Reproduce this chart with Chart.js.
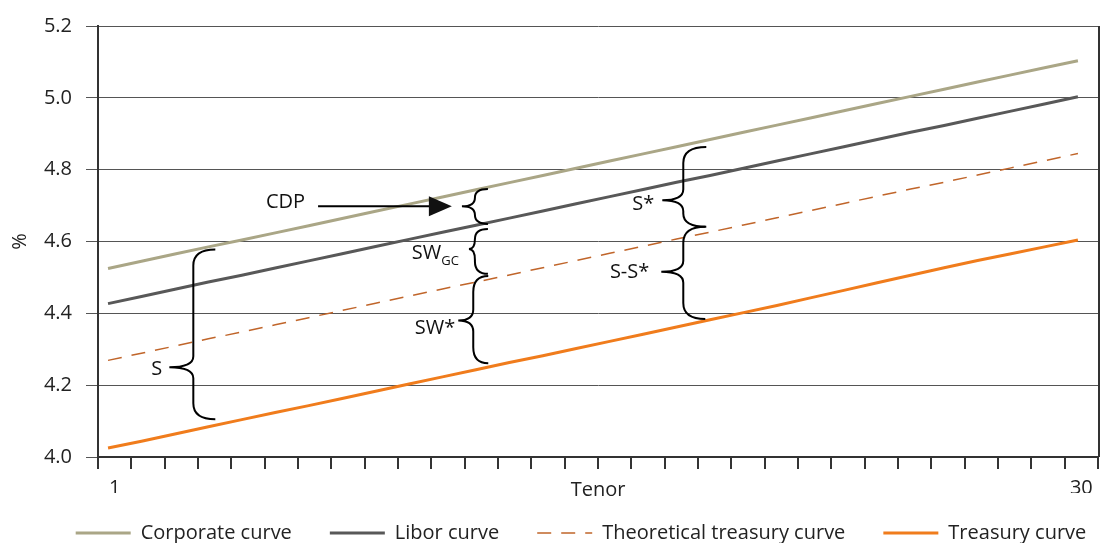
<!DOCTYPE html>
<html>
<head>
<meta charset="utf-8">
<script src="https://cdn.jsdelivr.net/npm/chart.js@4.4.1/dist/chart.umd.min.js"></script>
<style>
  html, body { margin: 0; padding: 0; background: #fff; }
</style>
</head>
<body>
<canvas id="chart" width="1103" height="543"></canvas>
<script>
// tenor axis
const tenors = [1, 2, 3, 4, 5, 6, 7, 8, 9, 10, 11, 12, 13, 14, 15, 16, 17, 18, 19, 20, 21, 22, 23, 24, 25, 26, 27, 28, 29, 30];
const tenorLabels = tenors.map(String);

// curves (%)
const corporateCurve = [4.525, 4.545, 4.565, 4.585, 4.604, 4.624, 4.644, 4.664, 4.684, 4.704, 4.724, 4.744, 4.764, 4.784, 4.804,
  4.824, 4.844, 4.864, 4.884, 4.904, 4.924, 4.944, 4.964, 4.984, 5.004, 5.024, 5.044, 5.064, 5.084, 5.103];
const liborCurve = [4.427, 4.447, 4.467, 4.487, 4.506, 4.526, 4.546, 4.566, 4.586, 4.606, 4.626, 4.645, 4.665, 4.685, 4.705,
  4.725, 4.745, 4.765, 4.784, 4.804, 4.824, 4.844, 4.864, 4.884, 4.904, 4.923, 4.943, 4.963, 4.983, 5.003];
const theoreticalCurve = [4.269, 4.289, 4.309, 4.329, 4.348, 4.368, 4.388, 4.408, 4.428, 4.448, 4.468, 4.487, 4.507, 4.527, 4.547,
  4.567, 4.587, 4.607, 4.626, 4.646, 4.666, 4.686, 4.706, 4.726, 4.746, 4.765, 4.785, 4.805, 4.825, 4.845];
const treasuryCurve = [4.025, 4.044, 4.064, 4.084, 4.104, 4.124, 4.143, 4.163, 4.183, 4.203, 4.223, 4.243, 4.263, 4.282, 4.302,
  4.322, 4.342, 4.362, 4.382, 4.402, 4.422, 4.443, 4.464, 4.485, 4.506, 4.527, 4.547, 4.566, 4.585, 4.604];

const yTicks = [4.0, 4.2, 4.4, 4.6, 4.8, 5.0, 5.2];

// spread braces (tenor, top / cusp / bottom in %)
const braceLabels = ['S', '', 'SW', 'SW*', 'S*', 'S-S*'];
const braceSubs   = ['', '', 'GC', '', '', ''];
const braceTenor  = [3.55, 11.97, 11.97, 11.92, 18.2, 18.2];
const braceTop    = [4.578, 4.746, 4.635, 4.504, 4.863, 4.641];
const braceMid    = [4.250, 4.698, 4.579, 4.380, 4.715, 4.516];
const braceBottom = [4.105, 4.649, 4.510, 4.261, 4.641, 4.384];

// CDP arrow
const cdpArrow = { label: 'CDP', from: 7.28, to: 11.28, value: 4.698 };

const pts = vals => tenors.map((t, i) => ({ x: t, y: vals[i] }));

Chart.defaults.font.family = "'Open Sans', sans-serif";
Chart.defaults.font.size = 20;
Chart.defaults.color = '#222';

// hook / cusp / label offsets in px
const braceStyle = [
  { hook: 22, cusp: 24, dx: 7, dy: 2 },
  { hook: 13, cusp: 13, dx: 0, dy: 0 },
  { hook: 13, cusp: 6, dx: 10, dy: 4 },
  { hook: 15, cusp: 15, dx: 3, dy: 8 },
  { hook: 23, cusp: 21, dx: 8, dy: 4 },
  { hook: 22, cusp: 22, dx: 12, dy: 1 }
];

function drawBrace(ctx, x, yTop, yMid, yBot, hook, cusp) {
  const rEndTop = Math.min(16, (yMid - yTop) / 2);
  const rEndBot = Math.min(16, (yBot - yMid) / 2);
  const rMidTop = Math.min(11, (yMid - yTop) / 2);
  const rMidBot = Math.min(11, (yBot - yMid) / 2);
  ctx.beginPath();
  ctx.moveTo(x + hook, yTop);
  ctx.quadraticCurveTo(x, yTop, x, yTop + rEndTop);
  ctx.lineTo(x, yMid - rMidTop);
  ctx.quadraticCurveTo(x, yMid, x - cusp, yMid);
  ctx.quadraticCurveTo(x, yMid, x, yMid + rMidBot);
  ctx.lineTo(x, yBot - rEndBot);
  ctx.quadraticCurveTo(x, yBot, x + hook, yBot);
  ctx.stroke();
}

const annotations = {
  id: 'annotations',
  afterLayout(chart) {
    // legend row sits right of centre and a bit higher in the original
    const lg = chart.legend;
    lg.left += 32;
    lg.right += 32;
    lg.top -= 8;
    lg.bottom -= 8;
  },
  afterDatasetsDraw(chart) {
    const { ctx, chartArea, scales } = chart;
    const xs = scales.xl, ys = scales.y;
    ctx.save();

    // right frame line
    ctx.strokeStyle = '#333';
    ctx.lineWidth = 2;
    ctx.beginPath();
    ctx.moveTo(chartArea.right + 1, chartArea.top);
    ctx.lineTo(chartArea.right + 1, chartArea.bottom);
    ctx.stroke();

    ctx.strokeStyle = '#000';
    ctx.fillStyle = '#111';
    ctx.lineWidth = 2;
    ctx.textAlign = 'right';
    ctx.textBaseline = 'middle';

    braceLabels.forEach((label, i) => {
      const st = braceStyle[i];
      const x = xs.getPixelForValue(braceTenor[i]);
      const yMid = ys.getPixelForValue(braceMid[i]);
      drawBrace(ctx, x, ys.getPixelForValue(braceTop[i]), yMid, ys.getPixelForValue(braceBottom[i]), st.hook, st.cusp);
      if (!label) return;
      let right = x - st.cusp - st.dx;
      if (braceSubs[i]) {
        ctx.font = "13px 'Open Sans', sans-serif";
        ctx.fillText(braceSubs[i], right, yMid + st.dy + 8);
        right -= ctx.measureText(braceSubs[i]).width;
      }
      ctx.font = "20px 'Open Sans', sans-serif";
      ctx.fillText(label, right, yMid + st.dy);
    });

    // CDP arrow
    const ay = ys.getPixelForValue(cdpArrow.value);
    const ax0 = xs.getPixelForValue(cdpArrow.from);
    const ax1 = xs.getPixelForValue(cdpArrow.to);
    ctx.beginPath();
    ctx.moveTo(ax0, ay);
    ctx.lineTo(ax1 - 20, ay);
    ctx.stroke();
    ctx.beginPath();
    ctx.moveTo(ax1, ay);
    ctx.lineTo(ax1 - 23, ay - 10);
    ctx.lineTo(ax1 - 23, ay + 10);
    ctx.closePath();
    ctx.fill();
    ctx.font = "20px 'Open Sans', sans-serif";
    ctx.fillText(cdpArrow.label, ax0 - 13, ay - 4);

    ctx.restore();
  }
};

new Chart(document.getElementById('chart'), {
  type: 'line',
  data: {
    labels: tenorLabels,
    datasets: [
      { label: 'Corporate curve', data: pts(corporateCurve), borderColor: '#aaa686', backgroundColor: '#aaa686', borderWidth: 3, xAxisID: 'xl' },
      { label: 'Libor curve', data: pts(liborCurve), borderColor: '#585858', backgroundColor: '#585858', borderWidth: 3, xAxisID: 'xl' },
      { label: 'Theoretical treasury curve', data: pts(theoreticalCurve), borderColor: '#c0652a', backgroundColor: '#c0652a', borderWidth: 1.5, borderDash: [14, 10], xAxisID: 'xl' },
      { label: 'Treasury curve', data: pts(treasuryCurve), borderColor: '#f07c1c', backgroundColor: '#f07c1c', borderWidth: 3, xAxisID: 'xl' }
    ]
  },
  options: {
    responsive: false,
    animation: false,
    layout: { padding: { top: 24, right: 5, bottom: -18, left: 0 } },
    elements: { point: { radius: 0 }, line: { tension: 0 } },
    scales: {
      x: {
        type: 'category',
        offset: true,
        grid: { offset: true, drawOnChartArea: false, tickLength: 12, color: '#333', lineWidth: 2 },
        border: { color: '#333', width: 2 },
        ticks: {
          autoSkip: false,
          maxRotation: 0,
          padding: 7,
          callback: (v, i, ticks) => (i === 0 || i === ticks.length - 1) ? tenorLabels[i] : ''
        },
        title: { display: true, text: 'Tenor', padding: { top: 0, bottom: -9 } },
        afterFit: s => { s.height = 36; }
      },
      xl: { type: 'linear', display: false, min: 0.7, max: 30.6 },
      y: {
        min: 4.0,
        max: 5.2,
        afterBuildTicks: s => { s.ticks = yTicks.map(v => ({ value: v })); },
        ticks: { padding: 14, callback: v => v.toFixed(1) },
        grid: { color: '#555', lineWidth: 1, tickLength: 12 },
        border: { color: '#333', width: 2 },
        title: { display: true, text: '%', padding: { top: 8, bottom: 0 } },
        afterFit: s => { s.width = 98; }
      }
    },
    plugins: {
      legend: {
        position: 'bottom',
        labels: {
          usePointStyle: true,
          pointStyle: 'line',
          pointStyleWidth: 55,
          padding: 38,
          color: '#222',
          generateLabels: chart => {
            const items = Chart.defaults.plugins.legend.labels.generateLabels(chart);
            items.forEach(it => {
              const ds = chart.data.datasets[it.datasetIndex];
              it.lineDash = ds.borderDash || [];
              it.lineWidth = ds.borderWidth;
              it.strokeStyle = ds.borderColor;
            });
            return items;
          }
        }
      },
      tooltip: { enabled: false }
    }
  },
  plugins: [annotations]
});
</script>
</body>
</html>
